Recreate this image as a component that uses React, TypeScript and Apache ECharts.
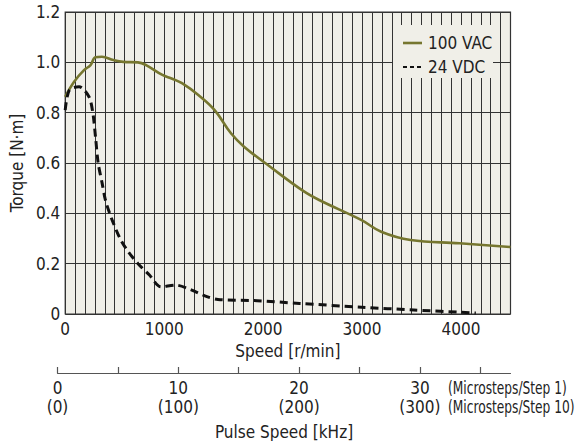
import React, { useEffect, useRef } from "react";
import * as echarts from "echarts";

const speedTicks = [0, 1000, 2000, 3000, 4000];
const torqueTicks = [0, 0.2, 0.4, 0.6, 0.8, 1.0, 1.2];
const pulseLabels = [0, 10, 20, 30];
const seriesNames = ["100 VAC", "24 VDC"];

const ac100Speed = [0, 90, 190, 256, 305, 371, 487, 586, 735, 817, 982, 1081, 1180, 1345, 1510, 1675, 1807, 2071, 2401, 2566, 2995, 3193, 3490, 3985, 4500];
const ac100Torque = [0.863, 0.923, 0.969, 0.989, 1.02, 1.022, 1.009, 1.002, 1.0, 0.989, 0.95, 0.935, 0.917, 0.87, 0.81, 0.718, 0.665, 0.585, 0.49, 0.453, 0.373, 0.327, 0.294, 0.281, 0.266];

const dc24Speed = [0, 42, 140, 240, 280, 306, 333, 373, 406, 449, 488, 554, 636, 736, 851, 967, 1114, 1279, 1411, 1543, 1939, 2368, 2995, 3523, 4150];
const dc24Torque = [0.81, 0.89, 0.903, 0.863, 0.797, 0.704, 0.6, 0.52, 0.453, 0.4, 0.36, 0.3, 0.248, 0.2, 0.155, 0.108, 0.115, 0.095, 0.072, 0.058, 0.053, 0.042, 0.027, 0.016, 0.004];

const FONT = "'DejaVu Sans Condensed', 'Liberation Sans', sans-serif";
const TXT = "#222";
const OLIVE = "#76762f";
const BG = "#f0efe8";

export default function App() {
  const ref = useRef<HTMLDivElement>(null);
  useEffect(() => {
    document.body.style.margin = "0";
    const chart = echarts.init(ref.current!, null, { renderer: "svg" });
    const toPairs = (xs: number[], ys: number[]) => xs.map((x, i) => [x, ys[i]]);
    chart.setOption({
      animation: false,
      textStyle: { fontFamily: FONT },
      grid: [
        { left: 57.5, top: 12, width: 453, height: 302, show: true, backgroundColor: BG, borderColor: "#333", borderWidth: 1.2 },
        { left: 57.5, top: 372, width: 453, height: 1, show: false },
      ],
      xAxis: [
        {
          gridIndex: 0,
          type: "value",
          min: 0,
          max: 4500,
          interval: 100,
          name: "Speed [r/min]",
          nameLocation: "middle",
          nameGap: 28,
          nameTextStyle: { fontFamily: FONT, fontSize: 17, color: TXT },
          axisLine: { show: false },
          axisTick: { show: false },
          splitLine: { show: true, lineStyle: { color: "#333", width: 1 } },
          axisLabel: {
            margin: 6,
            fontFamily: FONT,
            fontSize: 17,
            color: TXT,
            formatter: (v: number) => (speedTicks.includes(v) ? String(v) : ""),
          },
        },
        {
          gridIndex: 1,
          type: "value",
          min: 0,
          max: 37.5,
          interval: 5,
          position: "bottom",
          name: "Pulse Speed [kHz]",
          nameLocation: "middle",
          nameGap: 50,
          nameTextStyle: { fontFamily: FONT, fontSize: 17, color: TXT },
          axisLine: { show: true, lineStyle: { color: "#555", width: 1.2 } },
          axisTick: { show: true, inside: true, length: 6, lineStyle: { color: "#555", width: 1.2 } },
          splitLine: { show: false },
          axisLabel: {
            margin: 5,
            fontFamily: FONT,
            fontSize: 17,
            lineHeight: 19,
            color: TXT,
            showMaxLabel: false,
            formatter: (v: number) => (pulseLabels.includes(v) ? `${v}\n(${v * 10})` : ""),
          },
        },
      ],
      yAxis: [
        {
          gridIndex: 0,
          type: "value",
          min: 0,
          max: 1.2,
          interval: 0.2,
          name: "Torque [N·m]",
          nameLocation: "middle",
          nameGap: 36,
          nameRotate: 90,
          nameTextStyle: { fontFamily: FONT, fontSize: 17, color: TXT },
          axisLine: { show: false },
          axisTick: { show: false },
          splitLine: { show: true, lineStyle: { color: "#333", width: 1 } },
          axisLabel: {
            margin: 5,
            fontFamily: FONT,
            fontSize: 17,
            color: TXT,
            formatter: (v: number) => {
              const t = torqueTicks.find((x) => Math.abs(x - v) < 1e-6);
              if (t === undefined) return "";
              return t === 0 ? "0" : t.toFixed(1);
            },
          },
        },
        { gridIndex: 1, type: "value", show: false, min: 0, max: 1 },
      ],
      series: [
        {
          name: seriesNames[0],
          type: "line",
          xAxisIndex: 0,
          yAxisIndex: 0,
          data: toPairs(ac100Speed, ac100Torque),
          smooth: 0.4,
          symbol: "none",
          lineStyle: { color: OLIVE, width: 2.6 },
          itemStyle: { color: OLIVE },
        },
        {
          name: seriesNames[1],
          type: "line",
          xAxisIndex: 0,
          yAxisIndex: 0,
          data: toPairs(dc24Speed, dc24Torque),
          smooth: 0.3,
          symbol: "none",
          lineStyle: { color: "#111", width: 3, type: [8, 5] },
          itemStyle: { color: "#111" },
        },
      ],
      graphic: [
        { type: "rect", shape: { x: 393, y: 25, width: 100, height: 53 }, style: { fill: BG }, z: 10 },
        { type: "line", shape: { x1: 403, y1: 43, x2: 422, y2: 43 }, style: { stroke: OLIVE, lineWidth: 2.6 }, z: 11 },
        { type: "line", shape: { x1: 403, y1: 67, x2: 422, y2: 67 }, style: { stroke: "#111", lineWidth: 2, lineDash: [4, 3] }, z: 11 },
        { type: "text", x: 428, y: 43, style: { text: seriesNames[0], fontFamily: FONT, fontSize: 17, fill: TXT, verticalAlign: "middle" }, z: 11 },
        { type: "text", x: 428, y: 67, style: { text: seriesNames[1], fontFamily: FONT, fontSize: 17, fill: TXT, verticalAlign: "middle" }, z: 11 },
        { type: "text", x: 448, y: 388, scaleX: 0.8, style: { text: "(Microsteps/Step 1)", fontFamily: FONT, fontSize: 17, fill: TXT, verticalAlign: "middle" } },
        { type: "text", x: 448, y: 407, scaleX: 0.8, style: { text: "(Microsteps/Step 10)", fontFamily: FONT, fontSize: 17, fill: TXT, verticalAlign: "middle" } },
      ],
    });
    return () => chart.dispose();
  }, []);
  return <div ref={ref} style={{ width: 579, height: 441 }} />;
}
